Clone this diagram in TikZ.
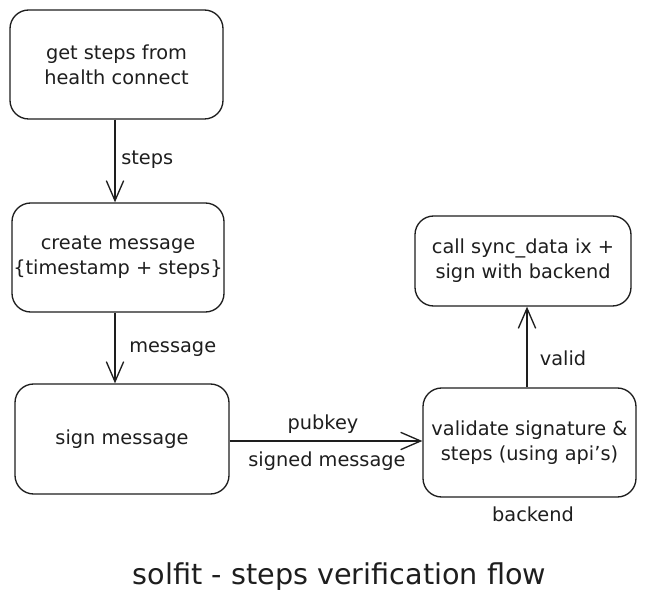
\documentclass[tikz,border=0pt]{standalone}
\usepackage{fontspec}
\setmainfont{DejaVu Sans}
\usetikzlibrary{arrows.meta}
\definecolor{ink}{HTML}{1E1E1E}
\begin{document}
\begin{tikzpicture}[x=0.75pt,y=-0.75pt,
  box/.style={draw=ink, line width=1pt, rounded corners=14pt, align=center, inner sep=0pt,
              font=\fontsize{14.5}{18.5}\selectfont, text=ink},
  arr/.style={draw=ink, line width=1pt, -{Straight Barb[length=15pt,width=13pt,line width=1pt]}},
  lbl/.style={font=\fontsize{14.5}{18}\selectfont, text=ink, inner sep=0pt},
  ttl/.style={font=\fontsize{21.5}{26}\selectfont, text=ink, inner sep=0pt}]
\useasboundingbox[fill=white] (0,0) rectangle (645,605);

\node[box, minimum width=159.75pt, minimum height=81.75pt] (b1) at (116.5,64.5) {get steps from\\health connect};
\node[box, minimum width=159pt, minimum height=81.75pt] (b2) at (118,257.5) {create message\\\{timestamp + steps\}};
\node[box, minimum width=160.5pt, minimum height=82.5pt] (b3) at (122,439) {sign message};
\node[box, minimum width=159.75pt, minimum height=81.75pt] (b4) at (529.5,442.5) {validate signature \&\\steps (using api's)};
\node[box, minimum width=162pt, minimum height=67.5pt] (b5) at (523,261) {call sync\_data ix +\\sign with backend};

\coordinate (ax) at (115,0);
\coordinate (bx) at (527,0);
\coordinate (cy) at (0,441);

\draw[arr] (b1.south -| ax) -- (b2.north -| ax);
\draw[arr] (b2.south -| ax) -- (b3.north -| ax);
\draw[arr] (b3.east |- cy) -- (b4.west |- cy);
\draw[arr] (b4.north -| bx) -- (b5.south -| bx);

\node[lbl, anchor=west] (l1) at (121,160) {steps};
\node[lbl, anchor=west] (l2) at (129,349) {message};
\node[lbl] (l3) at (323,424) {pubkey};
\node[lbl] (l4) at (327,461) {signed message};
\node[lbl] (l5) at (563,358) {valid};
\node[lbl] (l6) at (533,514) {backend};

\node[ttl] (t) at (339.5,577) {solfit - steps verification flow};
\end{tikzpicture}
\end{document}
